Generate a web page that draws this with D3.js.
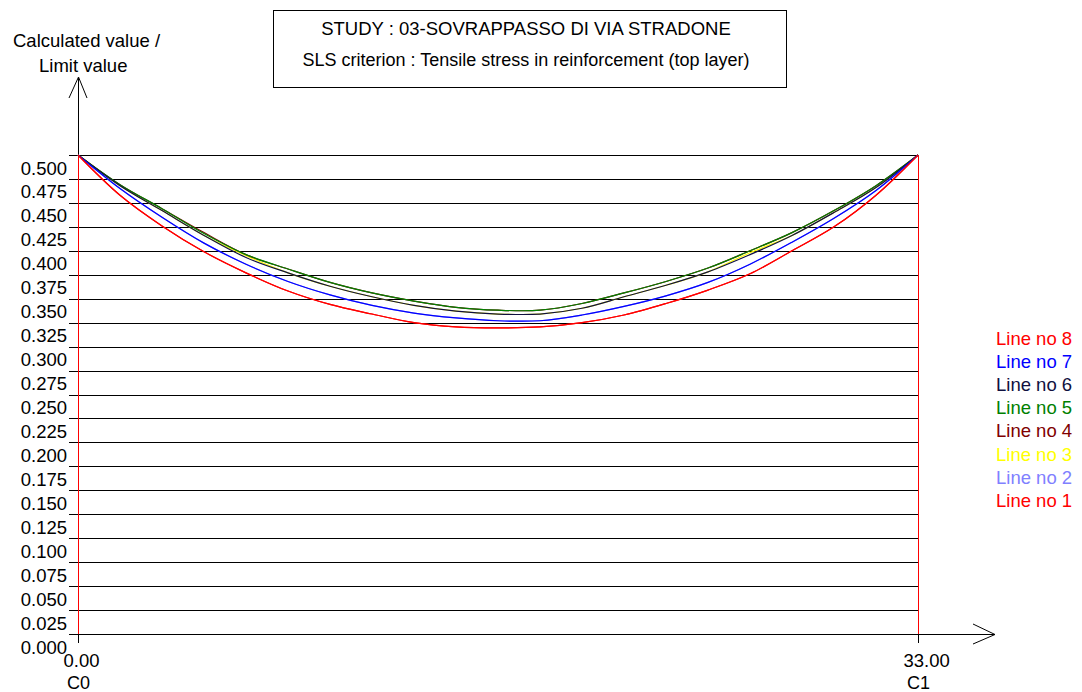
<!DOCTYPE html>
<html><head><meta charset="utf-8">
<script src="https://cdn.jsdelivr.net/npm/d3@7"></script>
<style>
html,body{margin:0;padding:0;background:#fff;}
svg{display:block;font-family:"Liberation Sans",Arial,sans-serif;}
</style></head>
<body>
<svg id="c" width="1082" height="692"></svg>
<script>
const titleLines = ["STUDY : 03-SOVRAPPASSO DI VIA STRADONE", "SLS criterion : Tensile stress in reinforcement (top layer)"];
const yAxisTitle = ["Calculated value /", "Limit value"];
const yTickLabels = ["0.000","0.025","0.050","0.075","0.100","0.125","0.150","0.175","0.200","0.225","0.250","0.275","0.300","0.325","0.350","0.375","0.400","0.425","0.450","0.475","0.500"];
const xTickValues = [0, 33];
const xTickLabels = ["0.00", "33.00"];
const supportLabels = ["C0", "C1"];
const xs = [0,1.65,3.3,4.95,6.6,8.25,9.9,11.55,13.2,14.85,16.5,18.15,19.8,21.45,23.1,24.75,26.4,28.05,29.7,31.35,33];
const seriesNames = ["Line no 1","Line no 2","Line no 3","Line no 4","Line no 5","Line no 6","Line no 7","Line no 8"];
const seriesColors = ["#ff0000","#8080ff","#ffff00","#800000","#008000","#101040","#0000ff","#ff0000"];
const line1 = [0.500,0.458,0.426,0.399,0.377,0.358,0.344,0.334,0.325,0.3205,0.3195,0.3205,0.325,0.333,0.345,0.359,0.376,0.400,0.425,0.458,0.500];
const line2 = [0.500,0.465,0.435,0.408,0.386,0.368,0.354,0.343,0.335,0.330,0.327,0.327,0.333,0.342,0.353,0.367,0.386,0.409,0.434,0.463,0.500];
const line3 = [0.500,0.468,0.442,0.416,0.395,0.377,0.363,0.352,0.343,0.337,0.334,0.334,0.340,0.352,0.364,0.378,0.398,0.416,0.440,0.466,0.500];
const line4 = [0.500,0.469,0.444,0.419,0.396,0.381,0.367,0.356,0.3475,0.341,0.338,0.338,0.345,0.356,0.368,0.382,0.400,0.419,0.442,0.468,0.500];
const line5 = [0.500,0.469,0.444,0.418,0.396,0.381,0.367,0.356,0.3475,0.341,0.338,0.338,0.345,0.356,0.368,0.382,0.400,0.419,0.442,0.468,0.500];
const line6 = [0.500,0.468,0.442,0.416,0.393,0.377,0.363,0.352,0.343,0.337,0.334,0.334,0.340,0.352,0.364,0.378,0.396,0.416,0.440,0.466,0.500];
const line7 = [0.500,0.465,0.435,0.408,0.386,0.368,0.354,0.343,0.335,0.330,0.327,0.327,0.333,0.342,0.353,0.367,0.386,0.409,0.434,0.463,0.500];
const line8 = [0.500,0.458,0.426,0.399,0.377,0.358,0.344,0.334,0.325,0.3205,0.3195,0.3205,0.325,0.333,0.345,0.359,0.376,0.400,0.425,0.458,0.500];
const seriesValues = [line1,line2,line3,line4,line5,line6,line7,line8];

const svg = d3.select("#c");
const FS = "18.5px";
const x = d3.scaleLinear().domain([0, 33]).range([78, 918]);
const y = d3.scaleLinear().domain([0, 0.5]).range([634, 155]);
const yTicks = yTickLabels.map(Number);

// title box
svg.append("rect").attr("x",273.5).attr("y",10.5).attr("width",513).attr("height",77)
  .attr("fill","none").attr("stroke","#000").attr("stroke-width",1);
svg.append("text").attr("x",526).attr("y",35).attr("text-anchor","middle").attr("font-size","18.5px").text(titleLines[0]);
svg.append("text").attr("x",526).attr("y",66).attr("text-anchor","middle").attr("font-size","18px").text(titleLines[1]);

// y axis title
svg.append("text").attr("x",13).attr("y",47).attr("font-size",FS).text(yAxisTitle[0]);
svg.append("text").attr("x",39).attr("y",72).attr("font-size",FS).text(yAxisTitle[1]);

// gridlines through an axis
const grid = svg.append("g").attr("transform","translate(918,0)")
  .call(d3.axisLeft(y).tickValues(yTicks).tickSize(849).tickFormat(""));
grid.select(".domain").remove();
grid.selectAll(".tick line").attr("stroke","#000").attr("shape-rendering","crispEdges");

// y tick labels
const yl = svg.append("g").attr("transform","translate(78,0)")
  .call(d3.axisLeft(y).tickValues(yTicks).tickSize(0).tickFormat((d,i)=>yTickLabels[i]));
yl.select(".domain").remove();
yl.selectAll(".tick text").attr("x",-11).attr("dy",null).attr("y",19)
  .attr("font-size",FS).attr("font-family","Liberation Sans, Arial, sans-serif").attr("fill","#000").attr("text-anchor","end");

// axes lines with arrows
svg.append("line").attr("x1",78.5).attr("x2",78.5).attr("y1",78).attr("y2",643).attr("stroke","#000").attr("shape-rendering","crispEdges");
svg.append("path").attr("d","M69,98 L78.5,77 L87,98").attr("fill","none").attr("stroke","#000");
svg.append("line").attr("x1",78).attr("x2",995).attr("y1",634.5).attr("y2",634.5).attr("stroke","#000").attr("shape-rendering","crispEdges");
svg.append("path").attr("d","M973,624 L995,634.5 L973,644").attr("fill","none").attr("stroke","#000");

// x axis ticks and labels
const xa = svg.append("g").attr("transform","translate(0,634)")
  .call(d3.axisBottom(x).tickValues(xTickValues).tickSize(9).tickFormat((d,i)=>xTickLabels[i]));
xa.select(".domain").remove();
xa.selectAll(".tick line").attr("stroke","#000").attr("shape-rendering","crispEdges");
xa.selectAll(".tick text").attr("y",33).attr("dy",null).attr("x",-15).attr("text-anchor","start")
  .attr("font-size",FS).attr("font-family","Liberation Sans, Arial, sans-serif").attr("fill","#000");
xa.selectAll(".tick").append("text").attr("y",55).attr("x",0).attr("text-anchor","middle")
  .attr("font-size","18px").attr("fill","#000").text((d,i)=>supportLabels[i]);

// support verticals (red)
svg.selectAll(".sup").data(xTickValues).enter().append("line")
  .attr("x1",d=>Math.round(x(d))+0.5).attr("x2",d=>Math.round(x(d))+0.5)
  .attr("y1",y(0.5)).attr("y2",y(0)).attr("stroke","#ff0000").attr("shape-rendering","crispEdges");

// series
const lineGen = d3.line().x((d,i)=>x(xs[i])).y(d=>y(d)).curve(d3.curveCatmullRom.alpha(0.5));
svg.append("g").selectAll("path").data(seriesValues).enter().append("path")
  .attr("d",lineGen).attr("fill","none").attr("stroke",(d,i)=>seriesColors[i]).attr("stroke-width",1.2);

// legend
const leg = seriesNames.map((n,i)=>({n,c:seriesColors[i]})).reverse();
svg.append("g").selectAll("text").data(leg).enter().append("text")
  .attr("x",996).attr("y",(d,i)=>345+i*23.1).attr("font-size",FS).attr("fill",d=>d.c).text(d=>d.n);
</script>
</body></html>
